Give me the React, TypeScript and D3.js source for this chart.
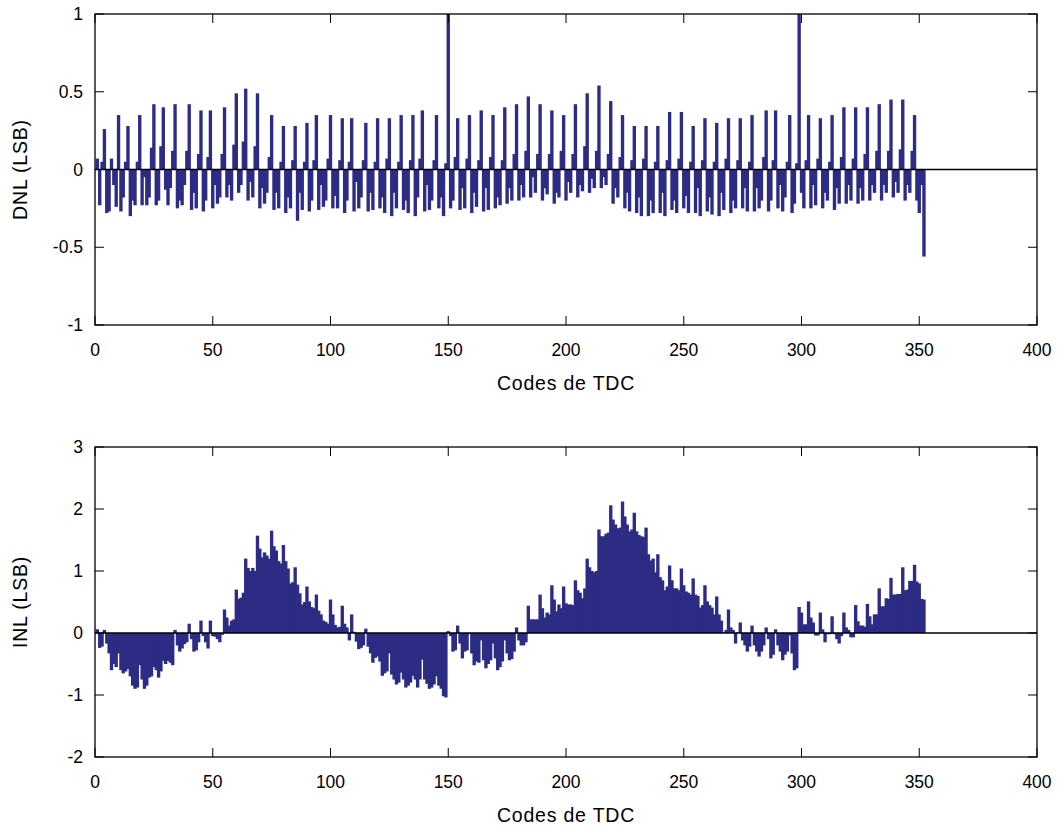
import React from 'react';
import * as d3 from 'd3';

// DNL per TDC code (codes 1..352), one row per period, row starts at a spike
const dnl: number[] = [
  0.07, -0.23, 0.05,
  0.26, -0.28, -0.27, 0.07, -0.1, -0.24,
  0.35, -0.27, -0.18, 0.05,
  0.28, -0.3, -0.2, -0.23, 0.05,
  0.35, -0.23, -0.05, -0.23, -0.18, 0.14,
  0.42, -0.23, -0.2, 0.15,
  0.4, -0.13, -0.23, -0.12, 0.12,
  0.42, -0.25, -0.2, -0.23, -0.1, 0.12,
  0.42, -0.26, -0.15, -0.25, 0.1,
  0.38, -0.27, -0.2, 0.08,
  0.38, -0.25, -0.1, -0.22, -0.18, 0.1,
  0.4, -0.18, -0.1, -0.2, 0.16,
  0.49, -0.15, -0.1, 0.18,
  0.52, -0.2, -0.08, -0.18, 0.15,
  0.49, -0.25, -0.12, -0.22, -0.15, 0.08,
  0.35, -0.26, -0.15, -0.25, 0.05,
  0.28, -0.28, -0.18, -0.25, 0.06,
  0.28, -0.33, -0.15, -0.26, 0.05,
  0.3, -0.27, -0.2, 0.06,
  0.35, -0.26, -0.1, -0.24, -0.2, 0.07,
  0.35, -0.25, -0.17, -0.25, 0.06,
  0.33, -0.28, -0.2, 0.05,
  0.33, -0.27, -0.08, -0.25, -0.18, 0.06,
  0.3, -0.27, -0.15, -0.26, 0.05,
  0.33, -0.25, -0.18, -0.28, 0.07,
  0.33, -0.3, -0.15, -0.25, 0.05,
  0.35, -0.26, -0.2, -0.28, 0.06,
  0.35, -0.3, -0.18, 0.07,
  0.38, -0.27, -0.1, -0.26, -0.2, 0.06,
  0.35, -0.25, -0.18, -0.3, 0.04,
  1.0, -0.25, -0.2, 0.08,
  0.33, -0.26, -0.12, -0.25, 0.07,
  0.35, -0.28, -0.15, -0.24, 0.06,
  0.38, -0.27, -0.12, -0.26, 0.08,
  0.35, -0.25, -0.18, -0.23, 0.06,
  0.4, -0.22, -0.12, -0.2, 0.1,
  0.42, -0.2, -0.1, -0.18, 0.12,
  0.47, -0.18, -0.05, -0.15, 0.1,
  0.42, -0.2, -0.12, -0.16, 0.1,
  0.38, -0.22, -0.15, -0.18, 0.12,
  0.35, -0.2, -0.08, -0.15, 0.1,
  0.42, -0.18, -0.1, -0.14, 0.15,
  0.49, -0.15, -0.06, -0.12, 0.12,
  0.54, -0.12, -0.05, -0.1, 0.1,
  0.44, -0.22, -0.12, -0.18, 0.08,
  0.35, -0.25, -0.15, -0.27, 0.06,
  0.28, -0.28, -0.18, -0.3, 0.07,
  0.28, -0.3, -0.2, -0.28, 0.05,
  0.28, -0.28, -0.15, -0.3, 0.06,
  0.37, -0.26, -0.2, -0.28, 0.07,
  0.37, -0.25, -0.17, -0.28, 0.05,
  0.28, -0.28, -0.12, -0.3, 0.06,
  0.33, -0.27, -0.18, -0.29, 0.05,
  0.3, -0.3, -0.15, -0.26, 0.07,
  0.33, -0.28, -0.2, -0.25, 0.06,
  0.33, -0.25, -0.12, -0.27, 0.05,
  0.35, -0.27, -0.12, -0.25, -0.2, 0.08,
  0.38, -0.27, -0.2, 0.06,
  0.38, -0.25, -0.1, -0.27, -0.18, 0.05,
  0.35, -0.28, -0.22, 0.04,
  1.0, -0.15, -0.25, 0.06,
  0.35, -0.25, -0.1, -0.23, 0.07,
  0.33, -0.25, -0.15, -0.2, 0.05,
  0.35, -0.26, -0.12, -0.22, 0.08,
  0.4, -0.22, -0.1, -0.2, 0.07,
  0.4, -0.22, -0.12, -0.2, 0.1,
  0.4, -0.2, -0.1, -0.15, 0.12,
  0.42, -0.2, -0.1, -0.15, 0.12,
  0.45, -0.18, -0.08, -0.15, 0.13,
  0.45, -0.2, -0.1, -0.15, 0.12,
  0.35, -0.2, -0.28, -0.1,
  -0.56,
];

// INL per TDC code (codes 1..352), same row layout
const inl: number[] = [
  0.06, -0.24, -0.22,
  0.05, -0.17, -0.33, -0.6, -0.5, -0.55,
  -0.33, -0.6, -0.65, -0.62,
  -0.58, -0.7, -0.85, -0.9, -0.88,
  -0.52, -0.75, -0.9, -0.85, -0.72, -0.7,
  -0.55, -0.6, -0.72, -0.62,
  -0.45, -0.5, -0.45, -0.48, -0.52,
  0.05, -0.2, -0.3, -0.25, -0.18, -0.15,
  0.15, -0.1, -0.3, -0.28, -0.15,
  0.2, -0.05, -0.15, -0.25,
  0.2, -0.05, -0.06, -0.1, -0.15, -0.03,
  0.38, 0.25, 0.12, 0.2, 0.22,
  0.7, 0.55, 0.57, 0.65,
  1.2, 1.05, 1.0, 1.05, 1.0,
  1.57, 1.36, 1.22, 1.3, 1.25, 1.2,
  1.65, 1.4, 1.33, 1.16, 1.12,
  1.42, 1.16, 1.04, 0.8, 0.82,
  1.06, 0.78, 0.64, 0.46, 0.5,
  0.75, 0.51, 0.42, 0.4,
  0.62, 0.36, 0.3, 0.2, 0.18, 0.15,
  0.54, 0.3, 0.13, 0.09, 0.1,
  0.44, 0.15, 0.09, -0.12,
  0.3, 0.02, -0.14, -0.26, -0.24, -0.2,
  0.07, -0.22, -0.33, -0.48, -0.4,
  -0.38, -0.46, -0.69, -0.65, -0.62,
  -0.33, -0.67, -0.75, -0.83, -0.8,
  -0.64, -0.75, -0.88, -0.85, -0.8,
  -0.69, -0.75, -0.88, -0.75,
  -0.43, -0.75, -0.82, -0.9, -0.88, -0.83,
  -0.7, -0.85, -0.9, -1.02, -1.04,
  0.03, -0.05, -0.3, -0.28,
  0.12, -0.17, -0.41, -0.3, -0.28,
  -0.02, -0.33, -0.52, -0.46, -0.48,
  -0.12, -0.44, -0.57, -0.5, -0.44,
  -0.17, -0.41, -0.6, -0.55, -0.46,
  -0.12, -0.33, -0.44, -0.42, -0.3,
  0.09, -0.12, -0.2, -0.2, -0.15,
  0.44, 0.22, 0.22, 0.22, 0.22,
  0.62, 0.4, 0.25, 0.33, 0.3,
  0.77, 0.54, 0.35, 0.46, 0.4,
  0.75, 0.48, 0.46, 0.46, 0.45,
  0.85, 0.69, 0.65, 0.56, 0.72,
  1.2, 1.06, 1.0, 0.98, 1.0,
  1.67, 1.56, 1.56, 1.6, 1.62,
  2.06, 1.83, 1.75, 1.69, 1.7,
  2.12, 1.88, 1.75, 1.64, 1.67,
  1.94, 1.64, 1.58, 1.56, 1.55,
  1.7, 1.27, 1.17, 1.2, 0.98,
  1.27, 0.9, 0.85, 0.69, 0.75,
  1.09, 0.85, 0.72, 0.72, 0.69,
  1.04, 0.77, 0.67, 0.65, 0.62,
  0.88, 0.62, 0.6, 0.41, 0.45,
  0.77, 0.51, 0.45, 0.41, 0.3,
  0.59, 0.3, 0.2, 0.01, 0.05,
  0.38, 0.09, 0.05, -0.17, 0.01,
  0.17, -0.12, -0.2, -0.3, -0.22,
  0.12, -0.2, -0.3, -0.38, -0.3, -0.2,
  0.09, -0.1, -0.41, -0.35,
  0.06, -0.2, -0.3, -0.44, -0.35, -0.3,
  -0.04, -0.33, -0.6, -0.57,
  0.42, 0.33, 0.14, 0.14,
  0.51, 0.25, 0.17, -0.04, -0.04,
  0.33, 0.06, -0.15, -0.02, -0.02,
  0.27, -0.02, -0.1, -0.17, -0.05,
  0.33, 0.09, 0.05, -0.07, -0.07,
  0.45, 0.19, 0.12, 0.12, 0.1,
  0.47, 0.27, 0.14, 0.3, 0.3,
  0.72, 0.43, 0.43, 0.56, 0.55,
  0.89, 0.62, 0.62, 0.63, 0.63,
  1.06, 0.69, 0.7, 0.84, 0.84,
  1.1, 0.83, 0.8, 0.55,
  0.54,
];

const xTicks = [0, 50, 100, 150, 200, 250, 300, 350, 400];
const dnlTicks = [-1, -0.5, 0, 0.5, 1];
const inlTicks = [-2, -1, 0, 1, 2, 3];

const W = 1062;
const H = 831;
const FONT = '"Liberation Sans", Arial, Helvetica, sans-serif';
const BAR = '#2c2c84';

type PanelProps = {
  values: number[];
  top: number;
  bottom: number;
  yDomain: [number, number];
  yTicks: number[];
  yLabel: string;
};

const left = 95;
const right = 1037;

const Panel = ({ values, top, bottom, yDomain, yTicks, yLabel }: PanelProps) => {
  const x = d3.scaleLinear().domain([0, 400]).range([left, right]);
  const y = d3.scaleLinear().domain(yDomain).range([bottom, top]);
  const bw = x(1) - x(0);
  const tick = 9;

  return (
    <g>
      {values.map((v, i) => {
        const code = i + 1;
        const y0 = y(Math.max(0, v));
        const y1 = y(Math.min(0, v));
        return (
          <rect
            key={i}
            x={x(code - 0.5) - 0.5}
            y={y0}
            width={bw + 1}
            height={Math.max(0.5, y1 - y0)}
            fill={BAR}
          />
        );
      })}
      <line x1={left} x2={right} y1={y(0)} y2={y(0)} stroke="#000" strokeWidth={1.4} />
      <rect x={left} y={top} width={right - left} height={bottom - top} fill="none" stroke="#000" strokeWidth={1.3} />
      {xTicks.map((t) => (
        <g key={'x' + t}>
          <line x1={x(t)} x2={x(t)} y1={bottom} y2={bottom - tick} stroke="#000" />
          <line x1={x(t)} x2={x(t)} y1={top} y2={top + tick} stroke="#000" />
          <text x={x(t)} y={bottom + 31} textAnchor="middle" fontSize={17.5} fontFamily={FONT}>
            {t}
          </text>
        </g>
      ))}
      {yTicks.map((t) => (
        <g key={'y' + t}>
          <line x1={left} x2={left + tick} y1={y(t)} y2={y(t)} stroke="#000" />
          <line x1={right} x2={right - tick} y1={y(t)} y2={y(t)} stroke="#000" />
          <text x={left - 12} y={y(t) + 6} textAnchor="end" fontSize={17.5} fontFamily={FONT}>
            {String(t)}
          </text>
        </g>
      ))}
      <text
        x={(left + right) / 2}
        y={bottom + 65}
        textAnchor="middle"
        fontSize={19.5}
        letterSpacing={0.8}
        fontFamily={FONT}
      >
        Codes de TDC
      </text>
      <text
        transform={`translate(27, ${(top + bottom) / 2}) rotate(-90)`}
        textAnchor="middle"
        fontSize={19.5}
        letterSpacing={0.8}
        fontFamily={FONT}
      >
        {yLabel}
      </text>
    </g>
  );
};

export default function App() {
  return (
    <svg
      width={W}
      height={H}
      style={{ position: 'absolute', left: 0, top: 0, background: '#fff' }}
    >
      <Panel values={dnl} top={14} bottom={325} yDomain={[-1, 1]} yTicks={dnlTicks} yLabel="DNL (LSB)" />
      <Panel values={inl} top={447} bottom={757} yDomain={[-2, 3]} yTicks={inlTicks} yLabel="INL (LSB)" />
    </svg>
  );
}
